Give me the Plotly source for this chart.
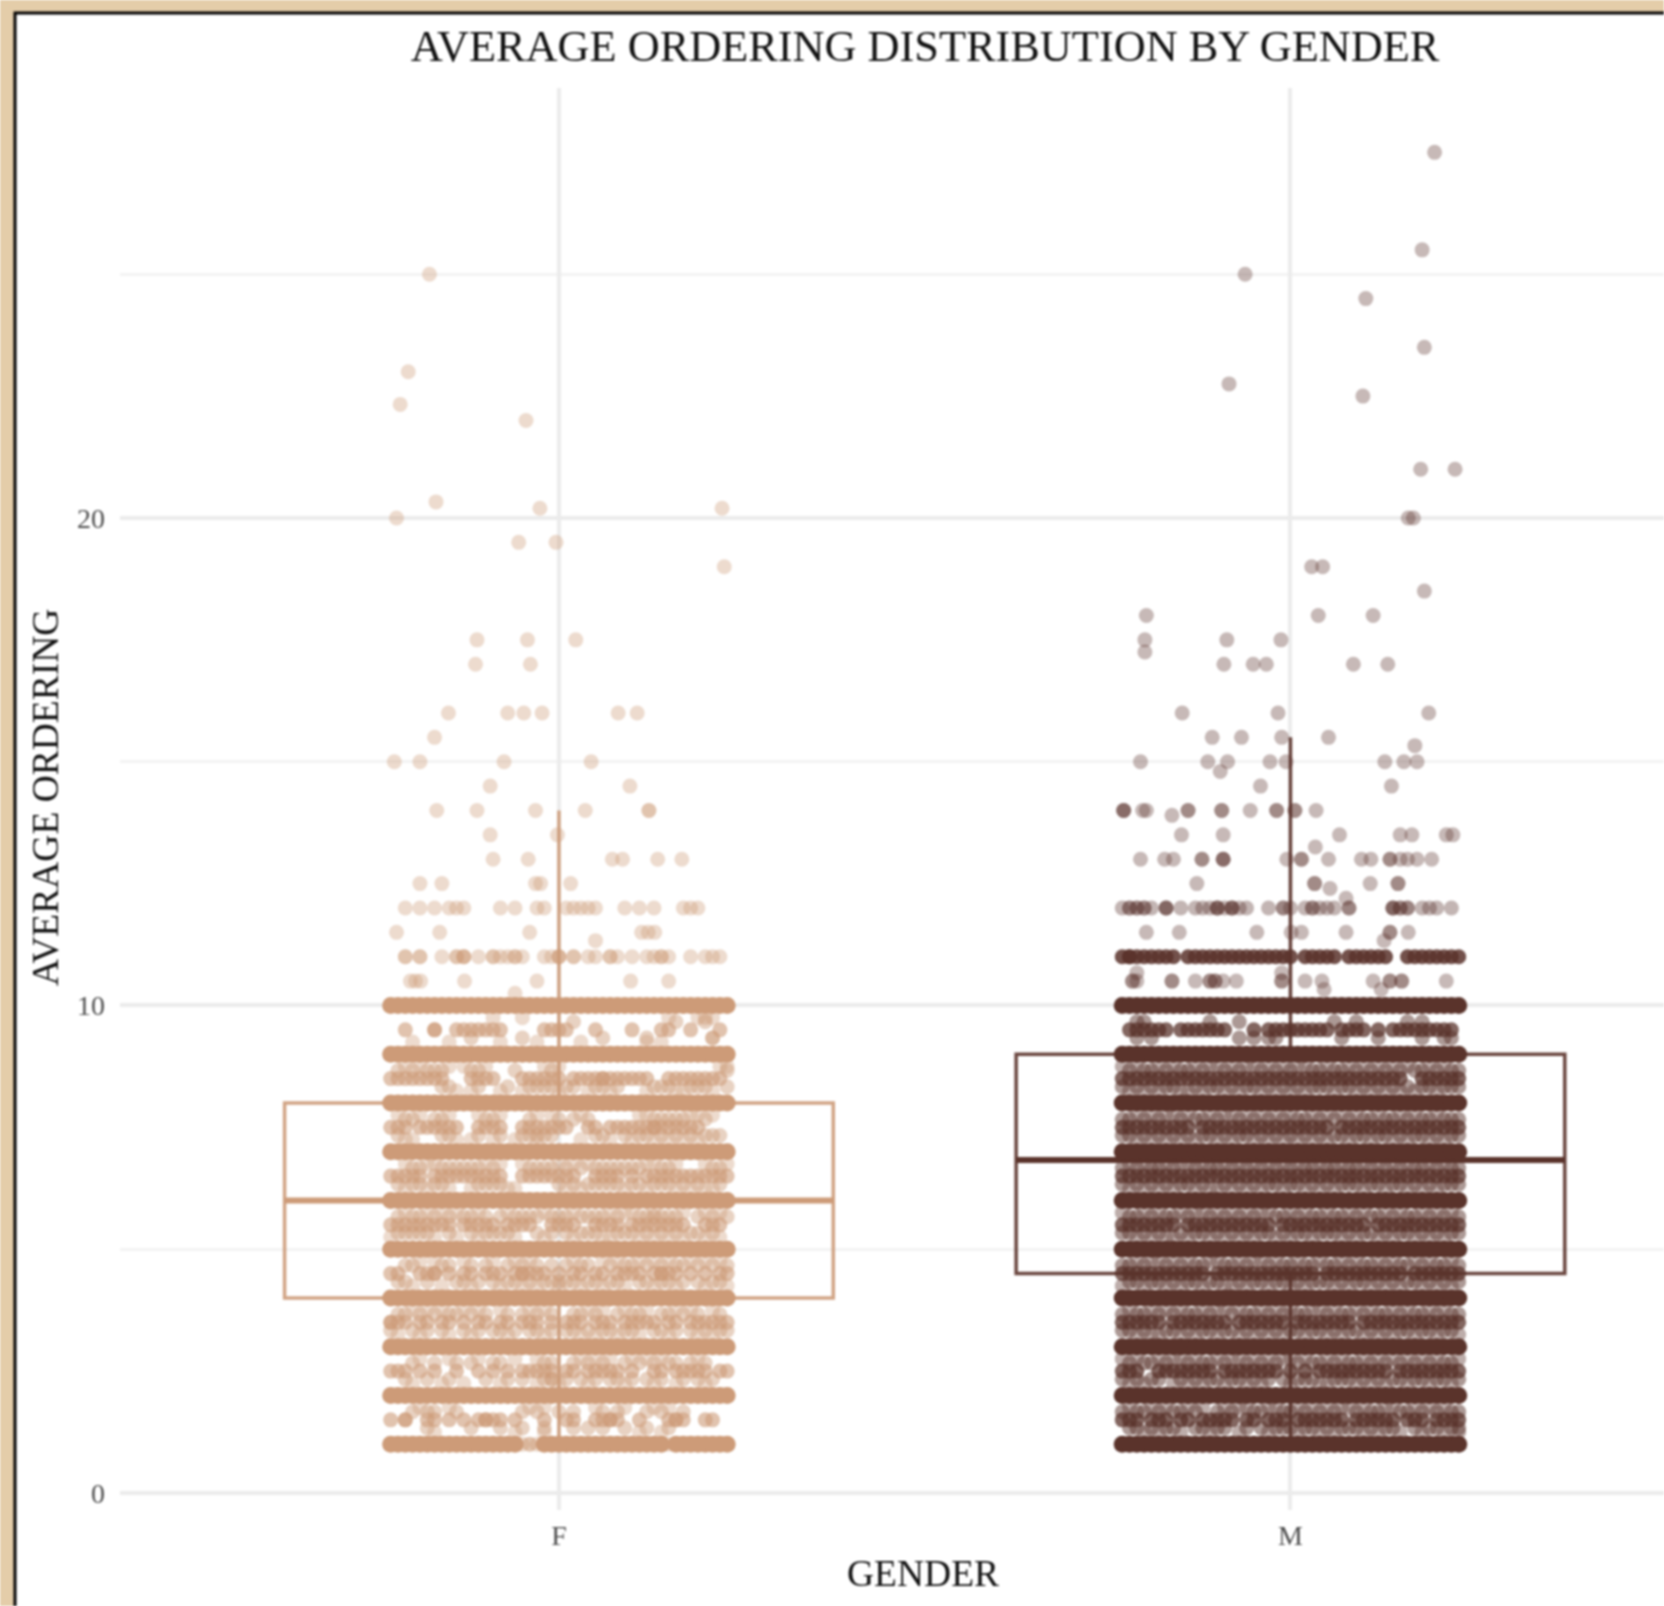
# Average ordering by gender. Outliers and sparse rows are read point by point from the picture.
# The dense zones overplot thousands of points that cannot be told apart, so they are hand-estimated
# rows: the lists below reproduce the visible density and gaps, not the original observations.
import plotly.graph_objects as go

GENDERS = ["F", "M"]
BOX_Q1 = [4.0, 4.5]
BOX_MEDIAN = [6.0, 6.83]
BOX_Q3 = [8.0, 9.0]
BOX_LOW = [1.0, 1.0]
BOX_HIGH = [14.0, 15.5]

# Jitter values are hundredths of a category step. Solid bands sit on whole numbers.
SOLID_LEVELS_F = [2, 3, 4, 5, 6, 7, 8, 9, 10]
SOLID_LEVELS_M = [1, 2, 3, 4, 5, 6, 7, 8, 9, 10]
SOLID_JITTER = [-23,-22,-21,-20,-19,-18,-17,-16,-15,-14,-13,-12,-11,-10,-9,-8,-7,-6,-5,-4,-3,-2,-1,0,1,2,3,4,5,6,7,8,9,10,11,12,13,14,15,16,17,18,19,20,21,22,23]
F_ROW_1_SOLID = [-23,-22,-21,-20,-19,-18,-17,-16,-15,-14,-13,-12,-11,-10,-9,-8,-7,-6,-2,-1,0,1,2,3,4,5,6,7,8,9,10,11,12,13,14,16,17,18,19,20,21,22,23]
F_ROW_1_LIGHT = [-5,-4,-4,-3,15]

# Rows at n+1/2, n+1/3, n+2/3 for n = 1..9
INTERVALS = [1, 2, 3, 4, 5, 6, 7, 8, 9]
F_HALF = [
 [-23,-21,-21,-18,-17,-15,-13,-11,-10,-10,-9,-8,-6,-2,1,2,5,6,7,7,8,11,15,16,16,17,20,21],
 [-23,-22,-21,-19,-17,-14,-11,-9,-7,-5,-4,-3,-2,-1,1,2,4,5,6,7,8,10,13,14,16,17,18,19,20,22,23],
 [-23,-23,-22,-21,-19,-18,-16,-15,-13,-11,-10,-8,-7,-5,-4,-3,-1,1,2,3,5,6,7,9,10,11,12,13,15,16,18,19,20,21,22,23],
 [-23,-22,-19,-18,-17,-17,-15,-13,-12,-10,-9,-8,-6,-5,-5,-4,-3,-2,0,2,3,5,6,8,9,10,11,13,14,14,15,16,18,20,22,23],
 [-23,-22,-21,-20,-19,-18,-17,-16,-15,-13,-12,-11,-10,-9,-7,-6,-5,-4,-1,0,1,2,5,6,7,8,10,11,12,13,14,15,16,17,20,21,22],
 [-23,-22,-21,-20,-19,-17,-16,-15,-14,-13,-12,-11,-10,-9,-8,-5,-4,-3,-2,-1,0,1,2,5,6,7,8,10,12,13,14,15,16,17,18,19,20,21,22,23],
 [-23,-22,-21,-19,-18,-17,-16,-15,-14,-11,-10,-9,-8,-5,-4,-3,-2,-1,0,1,4,5,7,8,9,10,11,12,13,13,14,15,16,17,18,19],
 [-23,-22,-21,-20,-19,-18,-17,-16,-12,-11,-10,-9,-5,-4,-3,-2,-1,0,2,3,4,5,6,6,7,8,9,10,11,12,15,16,17,18,19,20,21,22],
 [-21,-17,-17,-14,-13,-12,-11,-10,-9,-8,-2,-1,0,1,5,10,14,15,18,22],
]
F_LOW = [
 [-18,-12,-8,-5,-2,2,4,6,9,12,15],
 [-21,-18,-15,-10,-7,-5,-2,-1,-1,1,3,5,7,8,10,12,14,17,19,21],
 [-23,-20,-18,-16,-13,-11,-9,-8,-6,-4,-3,-1,1,2,4,6,7,9,10,13,14,16,18,20,22,23],
 [-22,-21,-18,-14,-13,-11,-9,-7,-6,-4,-2,-1,0,1,2,4,5,7,8,11,12,14,15,17,19,21,22],
 [-22,-21,-20,-19,-18,-15,-12,-10,-9,-8,-7,-3,-1,1,3,4,5,8,9,10,12,14,16,18,19,21],
 [-22,-20,-19,-17,-16,-11,-10,-9,-8,0,2,4,5,6,7,8,10,11,13,14,15,17,19,22],
 [-22,-16,-15,-11,-8,-5,-4,-3,-2,-1,5,6,9,11,12,14,16,18,20,21,22],
 [-16,-15,-11,-7,-4,-3,-2,-1,1,2,5,6,8,13,14,15,18,19,20,23],
 [-12,-5,6,12,21,21],
]
F_HIGH = [
 [-20,-18,-17,-14,-5,-3,0,2,6,8,12,14,17],
 [-20,-17,-14,-12,-9,-8,-2,-1,2,4,6,9,11,13,15,16,18,20],
 [-22,-21,-19,-17,-15,-14,-12,-10,-7,-5,-3,-1,2,3,5,8,10,11,14,15,17,19,22],
 [-21,-20,-16,-15,-12,-10,-7,-5,-3,-1,1,3,4,7,9,10,12,14,16,17,19,21,23],
 [-22,-20,-19,-17,-15,-13,-12,-10,-8,-6,-5,-4,-3,-1,0,1,3,4,5,6,8,11,12,13,14,15,16,19,21,23],
 [-20,-19,-16,-15,-14,-13,-12,-11,-9,-4,-3,-2,-1,1,3,5,6,7,8,9,10,11,14,15,21,22],
 [-21,-20,-17,-16,-10,-9,-4,0,2,4,13,14,15,16,17,20],
 [-22,-20,-18,-17,-16,-12,-11,-6,-1,23],
 [2,16,20],
]
# Fainter rows at n+1/4 and n+3/4
F_QUARTER_LOW = [
 [-17,-6,-2,11,14],
 [-20,-16,-13,-8,-3,0,4,9,13,16,20],
 [-22,-19,-15,-12,-7,-2,3,5,8,11,15,19,21],
 [-20,-16,-12,-8,-5,-3,0,3,6,9,13,16,20,23],
 [-23,-17,-14,-11,-6,-2,2,6,7,11,13,15,17,20,22],
 [-21,-18,-15,-12,-7,-6,1,3,9,12,16,18,20,21],
 [-21,-20,-14,-12,-9,-6,-3,3,7,10,13,15,17,19],
 [-14,-12,-8,-5,0,4,7,12,16,17,21],
]
F_QUARTER_HIGH = [
 [-19,-15,-4,-2,5,9,13,15],
 [-19,-15,-11,-6,-3,3,5,7,10,12,14,19],
 [-20,-18,-16,-13,-11,-8,-4,-2,4,6,9,12,16,18,21],
 [-19,-17,-13,-9,-6,-4,2,6,8,11,13,15,18,20,22],
 [-21,-18,-16,-14,-11,-7,-2,2,7,9,10,13,17,20,22],
 [-21,-18,-17,-10,-8,-5,0,2,4,12,13,16,20,23],
 [-22,-19,-15,-11,-8,-3,-1,3,11,12,18,19,21],
 [-21,-19,-15,-13,-10,-2,0,22,23],
]
F_OUTLIER_J = [-17.7,-20.6,-21.7,-4.5,-16.8,-22.2,-2.6,22.3,-5.5,-0.4,22.6,-11.2,-4.3,2.3,-11.4,-3.9,-15.1,-7,-4.8,-2.3,8.1,10.7,-17,-22.5,-19,-7.5,4.4,-9.4,9.7,-16.7,-11.2,-3.2,3.6,12.3,12.3,-0.2,-9.4,-9,-4.2,7.3,8.7,13.5,16.8,-19,-16,-3.2,-2.5,1.6,-22.2,-16.3,-4,11.3,12.2,13.1,5,-6,-20.3,-19.6,-18.9,-12.9,-3,9.8,15]
F_OUTLIER_Y = [25,23,22.33,22,20.33,20,20.2,20.2,19.5,19.5,19,17.5,17.5,17.5,17,17,16,16,16,16,16,16,15.5,15,15,15,15,14.5,14.5,14,14,14,14,14,14,13.5,13.5,13,13,13,13,13,13,12.5,12.5,12.5,12.5,12.5,11.5,11.5,11.5,11.5,11.5,11.5,11.33,10.25,10.5,10.5,10.5,10.5,10.5,10.5,10.5]
F_ROW_12 = [-21,-19,-17,-15,-14,-13,-8,-6,-3,-2,1,2,3,4,5,9,11,13,17,18,19]
F_ROW_11 = [-21,-21,-19,-19,-16,-14,-14,-13,-13,-13,-11,-9,-9,-8,-7,-6,-6,-5,-2,-1,0,0,0,2,2,4,5,7,7,8,10,12,13,14,14,15,18,20,21,22]
F_ROW_9_75 = [-5,-9,15,19,20,21]
F_ROW_9_25 = [-20,-15,-8,-3,3,12,14]

M_HALF = [
 [-23,-22,-21,-19,-18,-17,-15,-14,-12,-11,-10,-9,-8,-6,-5,-3,-2,-1,1,2,3,4,5,6,7,9,10,11,12,13,14,16,17,18,20,21,22,23],
 [-23,-22,-21,-18,-17,-16,-15,-14,-13,-12,-11,-9,-8,-7,-6,-5,-4,-3,-2,0,2,4,5,6,7,8,9,10,11,12,13,15,16,17,18,19,20,21,22,23],
 [-23,-22,-21,-20,-19,-18,-16,-15,-14,-13,-12,-11,-10,-9,-7,-6,-5,-4,-3,-2,-1,1,2,3,4,5,6,7,8,10,11,12,13,14,15,16,17,18,19,20,21,22,23],
 [-23,-22,-21,-20,-19,-18,-17,-16,-15,-14,-13,-12,-10,-9,-8,-7,-6,-5,-4,-3,-2,-1,0,1,2,3,5,6,7,8,9,10,11,12,13,14,15,17,18,19,20,21,22,23],
 [-23,-22,-21,-20,-19,-18,-17,-16,-14,-13,-12,-11,-10,-9,-8,-7,-6,-5,-4,-3,-1,0,1,2,3,4,5,6,7,8,9,10,12,13,14,15,16,17,18,19,20,21,22,23],
 [-23,-22,-21,-20,-19,-18,-17,-16,-15,-14,-13,-12,-11,-10,-9,-8,-7,-6,-5,-4,-3,-2,-1,0,1,2,3,4,5,6,7,8,9,10,11,12,13,14,15,16,17,18,19,20,21,22,23],
 [-23,-22,-21,-20,-19,-18,-17,-16,-15,-14,-12,-11,-10,-9,-8,-7,-6,-5,-4,-3,-2,-1,0,1,2,3,4,5,7,8,9,10,11,12,13,14,15,16,17,18,19,20,21,22,23],
 [-23,-22,-21,-20,-19,-18,-17,-16,-15,-14,-13,-12,-11,-10,-9,-8,-7,-6,-5,-4,-3,-2,-1,0,1,2,3,4,5,6,7,8,9,10,11,12,13,14,15,18,19,20,21,22,23],
 [-22,-21,-20,-19,-18,-17,-15,-14,-13,-12,-11,-10,-9,-5,-3,-2,-1,0,1,2,3,4,5,7,8,9,10,12,14,15,16,17,18,19,20,21,22],
]
M_LOW = [
 [-22,-21,-19,-17,-16,-13,-12,-10,-9,-6,-4,-2,-1,0,2,3,5,7,8,9,11,13,14,17,19,20,22,23],
 [-23,-21,-19,-18,-15,-13,-11,-10,-8,-7,-5,-3,-1,1,2,3,6,7,8,10,12,14,15,17,18,20,21,23],
 [-23,-22,-20,-17,-16,-14,-12,-11,-9,-8,-6,-4,-2,0,1,3,4,6,8,9,11,13,15,16,18,19,21,22],
 [-22,-21,-19,-18,-16,-14,-13,-11,-10,-7,-5,-4,-2,-1,1,3,4,5,7,9,10,12,14,16,17,19,21,23],
 [-23,-22,-20,-18,-15,-13,-12,-10,-8,-6,-4,-3,-1,1,2,4,5,6,8,10,11,13,15,16,18,20,22,23],
 [-23,-21,-19,-17,-15,-14,-12,-9,-7,-5,-3,-2,0,1,3,5,7,8,9,11,12,14,15,17,19,21,22,23],
 [-23,-22,-20,-18,-16,-14,-12,-11,-9,-7,-6,-4,-2,0,2,4,6,7,9,10,12,13,15,17,18,20,22,23],
 [-23,-21,-19,-17,-16,-13,-11,-10,-8,-6,-5,-3,-1,1,3,4,5,7,8,10,12,14,16,18,19,21,22,23],
 [-21,-19,-7,-5,-3,-2,7,12,18,21,22],
]
M_HIGH = [
 [-23,-21,-20,-18,-16,-15,-13,-10,-8,-5,-4,-1,0,2,4,6,9,11,12,15,16,18,20,22,23],
 [-22,-20,-19,-17,-14,-12,-11,-9,-6,-4,-2,1,3,4,6,8,9,11,13,15,17,19,21,22],
 [-23,-21,-20,-18,-16,-14,-13,-11,-8,-6,-5,-3,-1,1,2,5,7,8,10,12,13,15,17,18,20,22,23],
 [-23,-22,-20,-17,-15,-13,-12,-9,-8,-6,-3,-1,0,2,3,5,6,8,10,11,13,15,16,18,20,21,23],
 [-22,-21,-19,-17,-16,-14,-11,-9,-7,-5,-2,-1,1,3,4,6,7,9,11,12,14,16,17,19,21,23],
 [-23,-21,-19,-18,-16,-13,-11,-10,-8,-6,-4,-2,0,2,3,5,6,8,9,11,13,15,17,18,20,22,23],
 [-23,-22,-20,-18,-15,-13,-12,-10,-7,-5,-3,-1,1,2,4,6,8,10,11,13,14,16,18,19,21,22,23],
 [-22,-20,-19,-17,-15,-14,-12,-9,-7,-4,-2,0,3,4,6,7,9,11,13,15,17,18,20,22,23],
 [-21,-20,-11,-7,6,9,16,18],
]
M_QUARTER_LOW = [
 [-20,-18,-15,-11,-7,-3,1,4,6,10,12,15,18,21,23],
 [-22,-20,-16,-14,-12,-9,-6,-4,0,4,5,9,11,13,16,19,22],
 [-21,-19,-18,-15,-13,-10,-7,-5,-3,-1,2,5,7,10,12,14,17,20,23],
 [-23,-20,-17,-15,-12,-9,-8,-6,-3,0,2,6,8,11,13,15,18,20,22],
 [-21,-19,-17,-16,-14,-11,-9,-7,-5,-2,0,3,7,9,12,14,17,19,21],
 [-22,-20,-18,-16,-13,-11,-10,-8,-6,-4,-1,2,4,6,10,13,16,18,20],
 [-21,-19,-17,-15,-13,-10,-8,-5,-3,-1,1,3,5,8,11,14,16,19,21],
 [-22,-20,-18,-15,-14,-12,-9,-7,-4,-2,0,2,6,9,11,13,15,17,20],
]
M_QUARTER_HIGH = [
 [-22,-19,-17,-14,-12,-9,-7,-6,-3,-2,1,3,5,7,8,10,13,14,17,19,21],
 [-23,-21,-18,-16,-15,-13,-10,-8,-7,-5,-3,-1,0,2,5,7,10,12,14,16,18,20,23],
 [-22,-19,-17,-15,-12,-10,-9,-7,-4,-2,0,3,4,6,9,11,14,16,19,21],
 [-21,-19,-18,-16,-14,-11,-10,-7,-5,-4,-2,1,4,7,9,12,14,17,19,22],
 [-23,-20,-18,-15,-13,-12,-10,-8,-6,-4,-3,0,2,5,8,10,13,15,18,20,22],
 [-22,-20,-17,-15,-14,-12,-9,-7,-5,-3,-1,1,4,7,10,12,14,16,19,21],
 [-21,-19,-17,-16,-14,-11,-9,-8,-6,-4,-2,0,3,5,7,9,12,15,17,20],
 [-23,-21,-18,-16,-13,-11,-10,-8,-6,-5,-3,-1,1,2,5,8,10,12,14,16,19,21],
]
M_ROW_11 = [-23,-22,-22,-21,-20,-19,-18,-17,-16,-14,-13,-12,-11,-10,-9,-8,-7,-6,-5,-4,-3,-2,-1,0,2,3,4,5,6,8,9,10,11,12,13,16,17,18,19,20,21,22,23]
M_ROW_12 = [-23,-22,-22,-21,-21,-20,-20,-19,-17,-17,-17,-15,-13,-12,-11,-10,-10,-10,-9,-8,-8,-8,-7,-6,-3,-1,-1,0,2,3,3,4,5,6,8,8,14,14,14,15,15,16,16,18,19,20,22]
M_OUTLIER_J = [19.7,18,-6.2,10.3,18.3,-8.4,9.9,17.8,22.5,16.1,16.8,18.3,2.9,4.4,-19.7,3.8,11.3,-19.9,-19.9,-8.7,-1.3,-9.1,-5.1,-3.3,8.6,13.3,-14.8,-1.7,18.9,-10.7,-6.7,-1.2,5.2,17,-20.5,-11.3,-8.6,-2.8,12.9,15.5,17.3,-9.6,-0.6,-4.1,13.8,-22.8,-22.8,-22.8,-20.2,-19.7,-14,-14,-9.4,-9.4,-5.5,-1.9,-1.9,0.6,0.6,3.5,-16.2,-14.9,-9.2,6.7,15,16.6,21.3,22.2,3.4,-20.5,-17.2,-16,-12.1,-12.1,-9.2,-9.2,-9.2,-0.5,1.5,1.5,5.2,9.7,11,13.6,13.6,15,16,17.3,19.3,-12.8,3.3,3.3,10.9,14.7,14.7,5.4,7.6,-19.7,-15.2,-4.6,0.1,1.5,7.6,13.6,13.6,16.1,12.8,-21.6,-21.6,-21,-16.2,-16.2,-13,-11,-11,-10.3,-10.3,-9.2,-7.4,-1.2,-1.2,2,4.3,11.3,13.6,13.6,15.2,15.2,21.3,4.6,12.4,-21,-1.2]
M_OUTLIER_Y = [27.5,25.5,25,24.5,23.5,22.75,22.5,21,21,20,20,18.5,19,19,18,18,18,17.5,17.25,17.5,17.5,17,17,17,17,17,16,16,16,15.5,15.5,15.5,15.5,15.33,15,15,15,15,15,15,15,14.8,15,14.5,14.5,14,14,14,14,14,14,14,14,14,14,14,14,14,14,14,13.9,13.5,13.5,13.5,13.5,13.5,13.5,13.5,13.25,13,13,13,13,13,13,13,13,13,13,13,13,13,13,13,13,13,13,13,13,12.5,12.5,12.5,12.5,12.5,12.5,12.4,12.2,11.5,11.5,11.5,11.5,11.5,11.5,11.5,11.5,11.5,11.33,10.5,10.5,10.5,10.5,10.5,10.5,10.5,10.5,10.5,10.5,10.5,10.5,10.5,10.5,10.5,10.5,10.5,10.5,10.5,10.5,10.5,10.5,10.33,10.33,10.67,10.67]

THIRD_LOW = 1 / 3
THIRD_HIGH = 2 / 3
COLOR_F = "#CD9B78"
COLOR_M = "#5A332B"
SERIF = "Liberation Serif"


def points(center, jitter, y, color, opacity, name, size=15):
    return go.Scatter(
        x=[center + j / 100 for j in jitter], y=y, mode="markers", name=name, showlegend=False,
        marker=dict(size=size, color=color, opacity=opacity, line=dict(width=0)), hoverinfo="skip",
    )


def rows(center, row_values, row_y, color, opacity, name, size=15):
    xs, ys = [], []
    for values, y in zip(row_values, row_y):
        xs += values
        ys += [y] * len(values)
    return points(center, xs, ys, color, opacity, name, size)


fig = go.Figure()
for i, color in enumerate([COLOR_F, COLOR_M]):
    fig.add_trace(go.Box(
        x=[i], q1=[BOX_Q1[i]], median=[BOX_MEDIAN[i]], q3=[BOX_Q3[i]], lowerfence=[BOX_LOW[i]],
        upperfence=[BOX_HIGH[i]], width=0.75, whiskerwidth=0, boxpoints=False, showlegend=False,
        line=dict(color=color, width=3.5), fillcolor="rgba(0,0,0,0)", opacity=0.9, hoverinfo="skip",
    ))
    fig.add_trace(go.Scatter(
        x=[i - 0.375, i + 0.375], y=[BOX_MEDIAN[i], BOX_MEDIAN[i]], mode="lines", showlegend=False,
        line=dict(color=color, width=6), hoverinfo="skip",
    ))

half_y = [n + 0.5 for n in INTERVALS]
low_y = [n + THIRD_LOW for n in INTERVALS]
high_y = [n + THIRD_HIGH for n in INTERVALS]
qlow_y = [n + 0.25 for n in INTERVALS]
qhigh_y = [n + 0.75 for n in INTERVALS]
SOLID_SIZE = 17

fig.add_trace(rows(0, F_QUARTER_LOW, qlow_y, COLOR_F, 0.36, "F quarter low"))
fig.add_trace(rows(0, F_QUARTER_HIGH, qhigh_y, COLOR_F, 0.36, "F quarter high"))
fig.add_trace(rows(0, F_LOW, low_y, COLOR_F, 0.45, "F low"))
fig.add_trace(rows(0, F_HIGH, high_y, COLOR_F, 0.45, "F high"))
fig.add_trace(rows(0, F_HALF, half_y, COLOR_F, 0.6, "F half"))
fig.add_trace(rows(0, [F_ROW_12, F_ROW_11, F_ROW_9_75, F_ROW_9_25, F_ROW_1_LIGHT], [12, 11, 9.75, 9.25, 1], COLOR_F, 0.36, "F rows"))
fig.add_trace(points(0, F_OUTLIER_J, F_OUTLIER_Y, COLOR_F, 0.36, "F outliers"))
fig.add_trace(rows(0, [F_ROW_1_SOLID], [1], COLOR_F, 1, "F row 1", SOLID_SIZE))
fig.add_trace(rows(0, [SOLID_JITTER] * len(SOLID_LEVELS_F), SOLID_LEVELS_F, COLOR_F, 1, "F solid", SOLID_SIZE))

fig.add_trace(rows(1, M_QUARTER_LOW, qlow_y, COLOR_M, 0.4, "M quarter low"))
fig.add_trace(rows(1, M_QUARTER_HIGH, qhigh_y, COLOR_M, 0.4, "M quarter high"))
fig.add_trace(rows(1, M_LOW, low_y, COLOR_M, 0.5, "M low"))
fig.add_trace(rows(1, M_HIGH, high_y, COLOR_M, 0.5, "M high"))
fig.add_trace(rows(1, M_HALF, half_y, COLOR_M, 0.75, "M half"))
fig.add_trace(rows(1, [M_ROW_12], [12], COLOR_M, 0.36, "M row 12"))
fig.add_trace(rows(1, [M_ROW_11], [11], COLOR_M, 0.85, "M row 11"))
fig.add_trace(points(1, M_OUTLIER_J, M_OUTLIER_Y, COLOR_M, 0.34, "M outliers"))
fig.add_trace(rows(1, [SOLID_JITTER] * len(SOLID_LEVELS_M), SOLID_LEVELS_M, COLOR_M, 1, "M solid", SOLID_SIZE))

M_L, M_T, PLOT_W, PLOT_H = 120, 88, 1544, 1422
fig.update_layout(
    width=1664, height=1606, margin=dict(l=M_L, r=0, t=M_T, b=1606 - M_T - PLOT_H, autoexpand=False),
    paper_bgcolor="#E4CDA9", plot_bgcolor="rgba(0,0,0,0)", showlegend=False,
    font=dict(family=SERIF, color="#111111"),
    title=dict(text="AVERAGE ORDERING DISTRIBUTION BY GENDER", x=925 / 1664, y=1 - 45 / 1606,
               xanchor="center", yanchor="middle", font=dict(size=44.3, family=SERIF, color="#111111")),
    xaxis=dict(range=[-0.6, 1.5106], tickmode="array", tickvals=[0, 1], ticktext=GENDERS, showgrid=True,
               gridcolor="#EBEBEB", gridwidth=3.5, zeroline=False, showline=False, ticks="",
               tickfont=dict(size=28, color="#4D4D4D", family=SERIF), ticklabelstandoff=6),
    yaxis=dict(range=[-0.349, 28.82], tickmode="array", tickvals=[0, 10, 20], showgrid=True, gridcolor="#EBEBEB",
               gridwidth=3.5, zeroline=False, showline=False, ticks="",
               tickfont=dict(size=28, color="#4D4D4D", family=SERIF), ticklabelstandoff=14,
               minor=dict(tickmode="array", tickvals=[5, 15, 25], showgrid=True, gridcolor="#F3F3F3", gridwidth=2.5)),
    annotations=[
        dict(text="GENDER", xref="paper", yref="paper", x=(923 - M_L) / PLOT_W, y=(M_T + PLOT_H - 1573) / PLOT_H,
             xanchor="center", yanchor="middle", showarrow=False, font=dict(size=37.5, family=SERIF, color="#111111")),
        dict(text="AVERAGE ORDERING", xref="paper", yref="paper", x=(45 - M_L) / PLOT_W, y=(M_T + PLOT_H - 798) / PLOT_H,
             xanchor="center", yanchor="middle", textangle=-90, showarrow=False, font=dict(size=37.5, family=SERIF, color="#111111")),
    ],
    shapes=[dict(type="rect", xref="paper", yref="paper", layer="below",
                 x0=(15 - M_L) / PLOT_W, x1=(1700 - M_L) / PLOT_W,
                 y0=(M_T + PLOT_H - 1650) / PLOT_H, y1=(M_T + PLOT_H - 13) / PLOT_H,
                 fillcolor="white", line=dict(color="black", width=3))],
)
fig.write_html("out.html", config={"displayModeBar": False},
               post_script="document.body.style.margin='0';document.body.style.overflow='hidden';document.querySelector('.plotly-graph-div').style.filter='blur(0.8px)';")
